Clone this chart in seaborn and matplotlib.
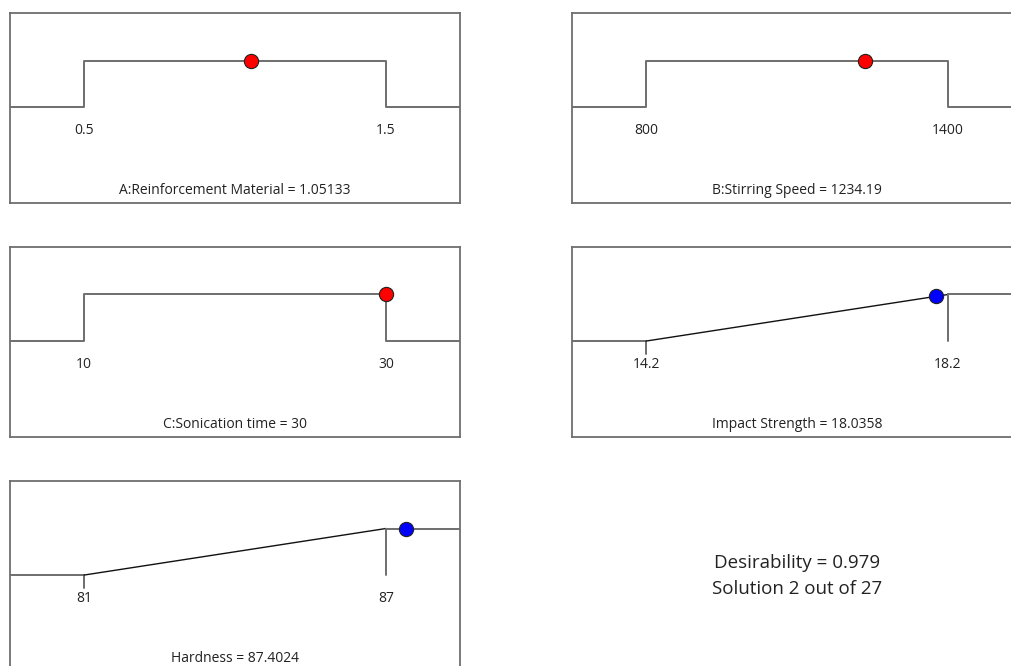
import matplotlib.pyplot as plt
import pandas as pd
import seaborn as sns

names = ["A:Reinforcement Material", "B:Stirring Speed", "C:Sonication time",
         "Impact Strength", "Hardness"]
lows = [0.5, 800, 10, 14.2, 81]
highs = [1.5, 1400, 30, 18.2, 87]
low_text = ["0.5", "800", "10", "14.2", "81"]
high_text = ["1.5", "1400", "30", "18.2", "87"]
values = [1.05133, 1234.19, 30, 18.0358, 87.4024]
value_text = ["1.05133", "1234.19", "30", "18.0358", "87.4024"]
point_d = [1.0, 1.0, 1.0, 0.959, 1.0]
goals = ["range", "range", "range", "maximize", "maximize"]
desirability = 0.979
solution = 2
n_solutions = 27

sns.set_style("white")
plt.rcParams["font.family"] = ["Open Sans", "DejaVu Sans"]

W, H = 1011, 666
fig = plt.figure(figsize=(W / 100, H / 100), dpi=100)

# panel top-left corners in pixels (right column runs past the edge)
corners = [(10, 13), (572, 13), (10, 247), (572, 247), (10, 481)]
pw, ph = 450, 190
gray = "#6e6e6e"


def seg(ax, xs, ys, color=gray, lw=1.4):
    sns.lineplot(x=xs, y=ys, sort=False, estimator=None, color=color,
                 linewidth=lw, ax=ax)


for i, (x0, y0) in enumerate(corners):
    ax = fig.add_axes([x0 / W, (H - y0 - ph) / H, pw / W, ph / H])
    lo, hi = lows[i], highs[i]
    pad = 0.245 * (hi - lo)
    xmin, xmax = lo - pad, hi + pad
    if goals[i] == "range":
        seg(ax, [xmin, lo, lo, hi, hi, xmax], [0, 0, 1, 1, 0, 0])
        color = "#ff0000"
    else:
        seg(ax, [xmin, lo], [0, 0])
        seg(ax, [lo, lo], [0, -0.27])
        seg(ax, [lo, hi], [0, 1], color="#111111", lw=1.0)
        seg(ax, [hi, hi], [0, 1])
        seg(ax, [hi, xmax], [1, 1])
        color = "#0000ff"
    sns.scatterplot(x=[values[i]], y=[point_d[i]], s=105, color=color,
                    edgecolor="#222222", linewidth=0.8, zorder=5, ax=ax)
    ax.set_xlim(xmin, xmax)
    ax.set_ylim(-2.06, 2.02)
    ax.set_xticks([])
    ax.set_yticks([])
    ax.set_xlabel("")
    ax.set_ylabel("")
    for s in ax.spines.values():
        s.set_color(gray)
        s.set_linewidth(1.3)
    tr = ax.get_xaxis_transform()
    ax.text(lo, 0.379, low_text[i], transform=tr, ha="center", va="center",
            fontsize=10, color="#222222")
    ax.text(hi, 0.379, high_text[i], transform=tr, ha="center", va="center",
            fontsize=10, color="#222222")
    ax.text(0.5, 0.066, f"{names[i]} = {value_text[i]}", transform=ax.transAxes,
            ha="center", va="center", fontsize=10, color="#222222")

fig.text(797 / W, 1 - 563 / H, f"Desirability = {desirability}", ha="center",
         va="center", fontsize=13.5, color="#222222")
fig.text(797 / W, 1 - 589 / H, f"Solution {solution} out of {n_solutions}",
         ha="center", va="center", fontsize=13.5, color="#222222")

fig.savefig("out.png", dpi=100)
